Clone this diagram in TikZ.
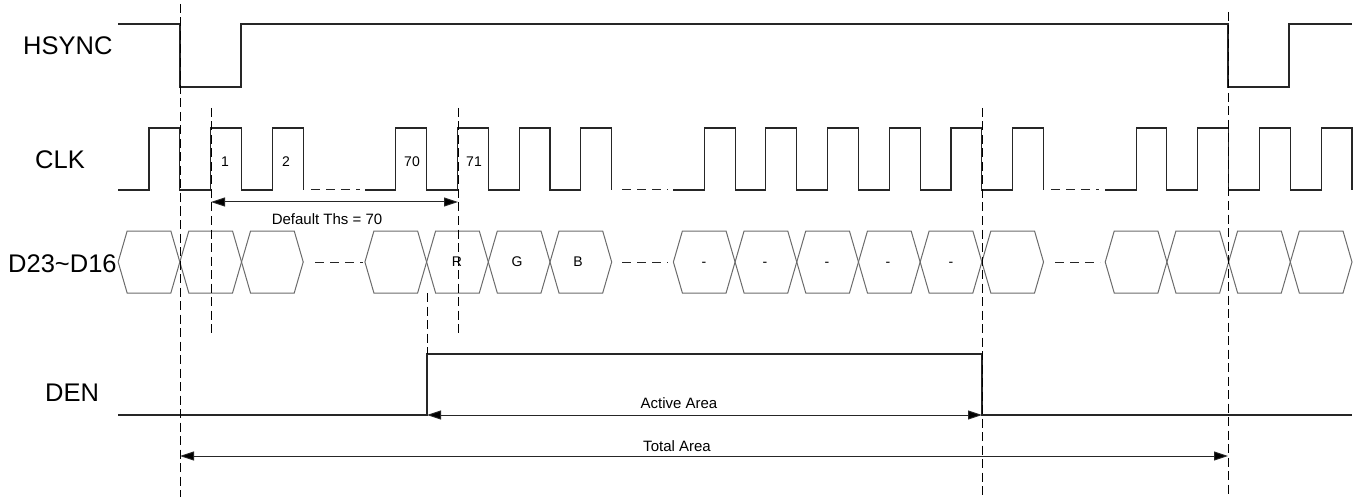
\documentclass[tikz,border=0pt]{standalone}
\usepackage{fontspec}
\setmainfont{Liberation Sans}
\usetikzlibrary{arrows.meta}
\begin{document}
\begin{tikzpicture}[x=1pt,y=-1pt,
  sig/.style={line width=1.1pt,draw=black!85,line join=miter},
  hexs/.style={line width=1pt,draw=black!58},
  vdash/.style={line width=1pt,draw=black,dash pattern=on 9pt off 4.5pt},
  hdash/.style={line width=1pt,draw=black!85,dash pattern=on 9pt off 6pt},
  dimarrow/.style={line width=1pt,draw=black!85,{Triangle[length=14pt,width=9pt,fill=black]}-{Triangle[length=14pt,width=9pt,fill=black]}},
  biglbl/.style={font=\fontsize{25.5}{30}\selectfont,inner sep=0pt,anchor=west},
  smalllbl/.style={font=\fontsize{14}{16}\selectfont,inner sep=0pt},
  midlbl/.style={font=\fontsize{15}{18}\selectfont,inner sep=0pt},
]
\useasboundingbox (0,0) rectangle (1362,497);
\def\h{30.846}

% signal names
\node[biglbl] (lhs) at (23,46) {HSYNC};
\node[biglbl] (lclk) at (35,160) {CLK};
\node[biglbl] (ld) at (8,264) {D23\char`~D16};
\node[biglbl] (lden) at (45,393) {DEN};

% HSYNC
\draw[sig] (118,24) -- (180,24) -- (180,87) -- (241,87) -- (241,24) -- (1228,24) -- (1228,87) -- (1289,87) -- (1289,24) -- (1352,24);

% CLK
\draw[sig] (118,190) foreach \k in {0,...,5}{ -- ({149+\k*\h},{190-62*mod(\k,2)}) -- ({149+\k*\h},{128+62*mod(\k,2)}) };
\draw[hdash] (311,190) -- (360,190);
\draw[sig] (365,190) foreach \k in {8,...,15}{ -- ({149+\k*\h},{190-62*mod(\k,2)}) -- ({149+\k*\h},{128+62*mod(\k,2)}) };
\draw[hdash] (622,190) -- (668,190);
\draw[sig] (673,190) foreach \k in {18,...,29}{ -- ({149+\k*\h},{190-62*mod(\k,2)}) -- ({149+\k*\h},{128+62*mod(\k,2)}) };
\draw[hdash] (1051,190) -- (1099,190);
\draw[sig] (1105,190) foreach \k in {32,...,39}{ -- ({149+\k*\h},{190-62*mod(\k,2)}) -- ({149+\k*\h},{128+62*mod(\k,2)}) };

\node[smalllbl] (c1) at (225,162) {1};
\node[smalllbl] (c2) at (286,162) {2};
\node[smalllbl] (c70) at (412,162) {70};
\node[smalllbl] (c71) at (474,162) {71};

% data bus hexagons
\foreach \j in {0,1,2,4,5,6,7,9,10,11,12,13,14,16,17,18,19}{
  \pgfmathsetmacro\a{149+(2*\j-1)*\h}
  \pgfmathsetmacro\b{\a+2*\h}
  \draw[hexs] (\a,262) -- (\a+9,231) -- (\b-9,231) -- (\b,262) -- (\b-9,293) -- (\a+9,293) -- cycle;
}
\draw[hdash] (315,262) -- (363,262);
\draw[hdash] (622,262) -- (668,262);
\draw[hdash] (1055,262) -- (1100,262);

\node[smalllbl] (dr) at (457,262) {R};
\node[smalllbl] (dg) at (517,262) {G};
\node[smalllbl] (db) at (578,262) {B};
\foreach \x/\n in {704/a,765/b,827/c,888/d,951/e}{
  \node[smalllbl] (dm\n) at (\x,264) {-};
}

% DEN
\draw[sig] (118,415) -- (427,415) -- (427,354) -- (982,354) -- (982,415) -- (1352,415);

% dashed markers
\coordinate (m1t) at (180,4);   \coordinate (m1b) at (180,497);
\coordinate (m2t) at (211,108); \coordinate (m2b) at (211,335);
\coordinate (m3t) at (458,108); \coordinate (m3b) at (458,335);
\coordinate (m4t) at (427,293); \coordinate (m4b) at (427,354);
\coordinate (m5t) at (982,108); \coordinate (m5b) at (982,497);
\coordinate (m6t) at (1228,12); \coordinate (m6b) at (1228,497);
\draw[vdash] (m1t) -- (m1b);
\draw[vdash] (m2t) -- (m2b);
\draw[vdash] (m3t) -- (m3b);
\draw[vdash] (m4t) -- (m4b);
\draw[vdash] (m5t) -- (m5b);
\draw[vdash] (m6t) -- (m6b);

% dimension arrows
\coordinate (ths1) at (211,202); \coordinate (ths2) at (458,202);
\coordinate (act1) at (427,415); \coordinate (act2) at (982,415);
\coordinate (tot1) at (180,456); \coordinate (tot2) at (1228,456);
\draw[dimarrow] (ths1) -- (ths2);
\draw[dimarrow] (act1) -- (act2);
\draw[dimarrow] (tot1) -- (tot2);
\node[midlbl] (lths) at (327,219) {Default Ths = 70};
\node[midlbl] (lact) at (679,403) {Active Area};
\node[midlbl] (ltot) at (677,446) {Total Area};
\end{tikzpicture}
\end{document}
